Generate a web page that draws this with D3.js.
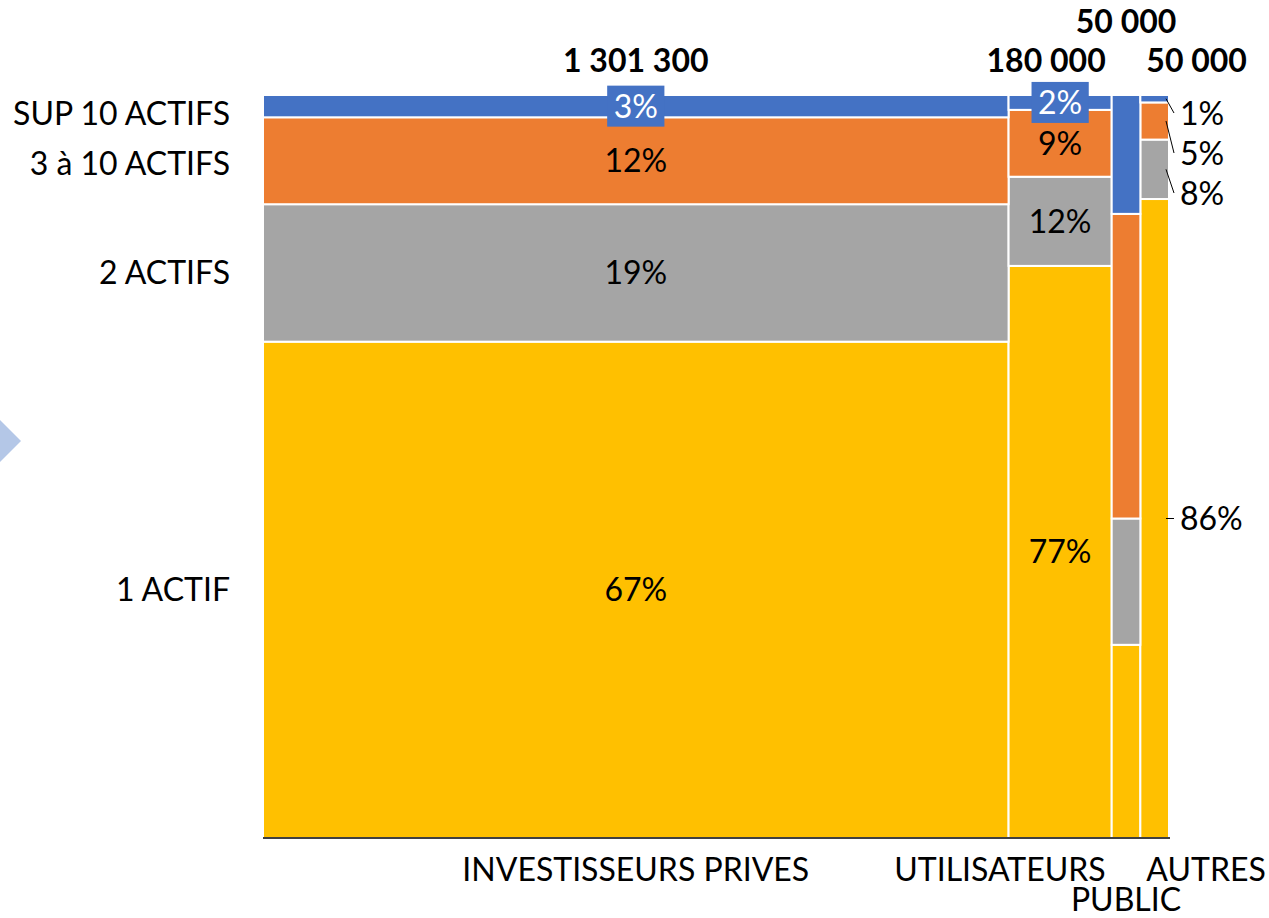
<!DOCTYPE html>
<html>
<head>
<meta charset="utf-8">
<script src="https://cdn.jsdelivr.net/npm/d3@7"></script>
<style>
  body { margin: 0; background: #fff; }
  text { font-family: Lato, "Open Sans", sans-serif; fill: #000; }
</style>
</head>
<body>
<svg id="chart" width="1269" height="918"></svg>
<script>
// colonnes (largeur = effectif)
var acteurs = ["INVESTISSEURS PRIVES", "UTILISATEURS", "PUBLIC", "AUTRES"];
var effectifs = [1301300, 180000, 50000, 50000];

// tranches empilees, du bas vers le haut
var tranches = ["1 ACTIF", "2 ACTIFS", "3 à 10 ACTIFS", "SUP 10 ACTIFS"];
var part_1actif = [66.8, 77, 26, 86];
var part_2actifs = [18.5, 12, 17, 8];
var part_3a10 = [11.7, 9, 41, 5];
var part_sup10 = [3, 2, 16, 1];

var couleurs = ["#FFC000", "#A5A5A5", "#ED7D31", "#4472C4"];

// mise en page des etiquettes (Excel)
var modeEtiq = ["dedans", "dedans", "aucune", "dehors"];
var ancreNom = ["middle", "end", "middle", "start"];
var rangNom = [0, 0, 1, 0];

var W = 1269, H = 918,
    gauche = 263, droite = 1169, haut = 95, bas = 838,
    taille = 32, demiCap = taille * 0.36;

var svg = d3.select("#chart");

var lignes = acteurs.map(function(a, i) {
    return {
        acteur: a,
        total: effectifs[i],
        "1 ACTIF": part_1actif[i],
        "2 ACTIFS": part_2actifs[i],
        "3 à 10 ACTIFS": part_3a10[i],
        "SUP 10 ACTIFS": part_sup10[i]
    };
});
var series = d3.stack().keys(tranches)(lignes);
var cumul = d3.cumsum(effectifs);

var x = d3.scaleLinear().domain([0, d3.sum(effectifs)]).range([gauche, droite]);
var y = d3.scaleLinear().domain([0, 100]).range([bas, haut]);
var couleur = d3.scaleOrdinal().domain(tranches).range(couleurs);
var fmt = d3.formatLocale({decimal: ",", thousands: " ", grouping: [3], currency: ["", " €"]}).format(",");

function colG(i) { return x(cumul[i] - effectifs[i]); }
function colD(i) { return x(cumul[i]); }

// petite fleche a gauche
svg.append("polygon")
    .attr("points", "0,420 21,441 0,462")
    .attr("fill", "#B4C7E7");

// segments
var g = svg.append("g");
series.forEach(function(s) {
    g.selectAll(null).data(s).enter().append("rect")
        .attr("x", function(d, i) { return colG(i); })
        .attr("y", function(d) { return y(d[1]); })
        .attr("width", function(d, i) { return colD(i) - colG(i); })
        .attr("height", function(d) { return y(d[0]) - y(d[1]); })
        .attr("fill", couleur(s.key))
        .attr("stroke", "#fff")
        .attr("stroke-width", 2);
});

// axe du bas
svg.append("line")
    .attr("x1", gauche).attr("x2", droite + 1)
    .attr("y1", bas).attr("y2", bas)
    .attr("stroke", "#000").attr("stroke-width", 1.5);

// etale des positions verticales pour eviter les chevauchements
function etale(centres, ecart) {
    var pos = [], prec = haut + 18;
    centres.slice().reverse().forEach(function(c, k) {
        var v = k === 0 ? Math.max(c, prec) : Math.max(c, prec + ecart);
        pos.push(v);
        prec = v;
    });
    return pos.reverse();
}

// etiquettes des tranches (a gauche, sur la 1re colonne)
var centres0 = series.map(function(s) { return (y(s[0][0]) + y(s[0][1])) / 2; });
var posG = etale(centres0, 50);
svg.selectAll(".tranche").data(tranches).enter().append("text")
    .attr("class", "tranche")
    .attr("x", 230)
    .attr("y", function(d, k) { return posG[k] + demiCap; })
    .attr("text-anchor", "end")
    .style("font-size", taille + "px")
    .text(function(d) { return d; });

// etiquettes de donnees
acteurs.forEach(function(a, i) {
    var cx = (colG(i) + colD(i)) / 2;
    if (modeEtiq[i] === "dedans") {
        series.forEach(function(s) {
            var d = s[i], h = y(d[0]) - y(d[1]), cy = (y(d[0]) + y(d[1])) / 2;
            var lab = Math.round(d[1] - d[0]) + "%";
            if (h < 34) {
                var t = svg.append("text")
                    .attr("x", cx).attr("y", cy + demiCap)
                    .attr("text-anchor", "middle")
                    .style("font-size", taille + "px")
                    .style("fill", "#fff")
                    .text(lab);
                var bb = t.node().getBBox();
                svg.insert("rect", function() { return t.node(); })
                    .attr("x", bb.x - 6.5).attr("y", cy - 20.5)
                    .attr("width", bb.width + 13).attr("height", 41)
                    .attr("fill", couleur(s.key));
            } else {
                svg.append("text")
                    .attr("x", cx).attr("y", cy + demiCap)
                    .attr("text-anchor", "middle")
                    .style("font-size", taille + "px")
                    .text(lab);
            }
        });
    } else if (modeEtiq[i] === "dehors") {
        var centres = series.map(function(s) { return (y(s[i][0]) + y(s[i][1])) / 2; });
        var pos = etale(centres, 40);
        var tx = colD(i) + 11;
        series.forEach(function(s, k) {
            svg.append("line")
                .attr("x1", colD(i) - 3).attr("y1", centres[k])
                .attr("x2", tx - 6).attr("y2", pos[k])
                .attr("stroke", "#000").attr("stroke-width", 1);
            svg.append("text")
                .attr("x", tx).attr("y", pos[k] + demiCap)
                .style("font-size", taille + "px")
                .text(Math.round(s[i][1] - s[i][0]) + "%");
        });
    }
});

// effectifs en haut, noms en bas
function ancreX(i) {
    if (ancreNom[i] === "end") return colD(i) - 6;
    if (ancreNom[i] === "start") return colG(i) + 6;
    return (colG(i) + colD(i)) / 2;
}
svg.selectAll(".effectif").data(effectifs).enter().append("text")
    .attr("class", "effectif")
    .attr("x", function(d, i) { return ancreX(i); })
    .attr("y", function(d, i) { return 60.5 - rangNom[i] * 39.5 + demiCap; })
    .attr("text-anchor", function(d, i) { return ancreNom[i]; })
    .style("font-size", taille + "px")
    .style("font-weight", "bold")
    .text(function(d) { return fmt(d); });

svg.selectAll(".acteur").data(acteurs).enter().append("text")
    .attr("class", "acteur")
    .attr("x", function(d, i) { return ancreX(i); })
    .attr("y", function(d, i) { return 869.5 + rangNom[i] * 30 + demiCap; })
    .attr("text-anchor", function(d, i) { return ancreNom[i]; })
    .style("font-size", taille + "px")
    .text(function(d) { return d; });
</script>
</body>
</html>
